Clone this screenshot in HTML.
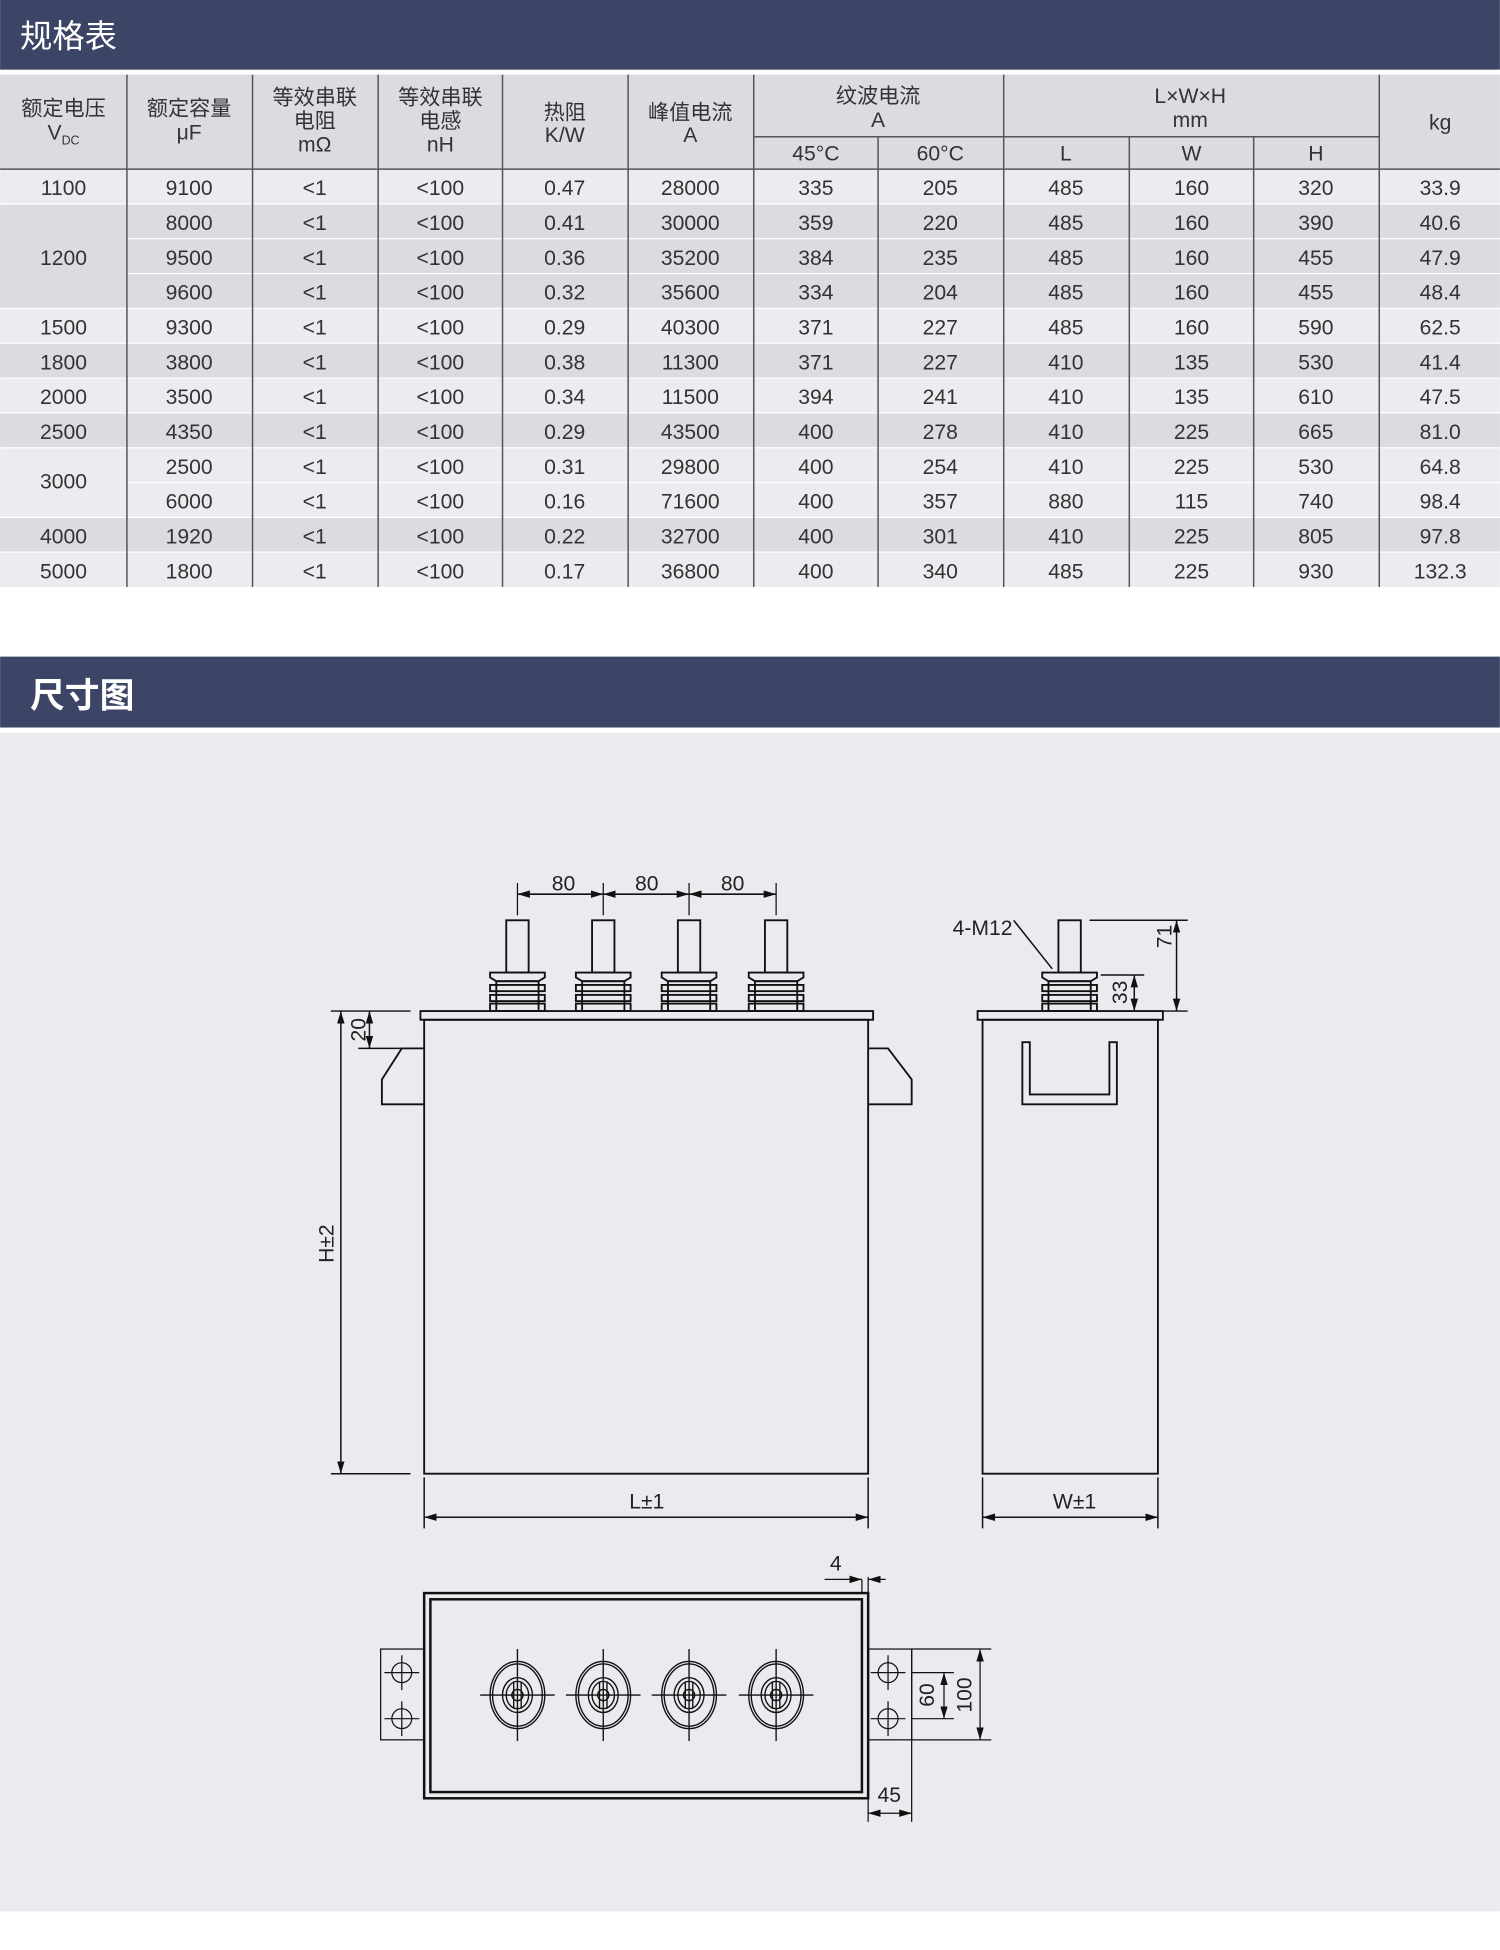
<!DOCTYPE html>
<html><head><meta charset="utf-8"><style>
html,body{margin:0;padding:0;background:#fff;}
svg{display:block;}
text{font-family:"Liberation Sans","Noto Sans CJK SC",sans-serif;fill:#333;}
.t text{font-size:17px;text-anchor:middle;}
.d text{font-size:17px;fill:#222;}
</style></head><body>
<svg width="1500" height="1950" viewBox="0 0 1206 1568" xmlns="http://www.w3.org/2000/svg">
<rect x="0" y="0" width="1206" height="1568" fill="#fff"/>
<rect x="0" y="0" width="1206" height="56" fill="#3c4565"/>
<text x="16" y="38" font-size="26" style="fill:#fff">规格表</text>
<rect x="0" y="60" width="1206" height="76" fill="#dcdbe1"/>
<g>
<rect x="0" y="136" width="1206" height="28" fill="#ececf0"/>
<rect x="0" y="164" width="1206" height="84" fill="#dcdbe1"/>
<rect x="0" y="248" width="1206" height="28" fill="#ececf0"/>
<rect x="0" y="276" width="1206" height="28" fill="#dcdbe1"/>
<rect x="0" y="304" width="1206" height="28" fill="#ececf0"/>
<rect x="0" y="332" width="1206" height="28" fill="#dcdbe1"/>
<rect x="0" y="360" width="1206" height="56" fill="#ececf0"/>
<rect x="0" y="416" width="1206" height="28" fill="#dcdbe1"/>
<rect x="0" y="444" width="1206" height="28" fill="#ececf0"/>
</g>
<g stroke="#fff" stroke-width="1">
<line x1="0" y1="164" x2="1206" y2="164"/><line x1="102" y1="192" x2="1206" y2="192"/><line x1="102" y1="220" x2="1206" y2="220"/>
<line x1="0" y1="248" x2="1206" y2="248"/><line x1="0" y1="276" x2="1206" y2="276"/><line x1="0" y1="304" x2="1206" y2="304"/>
<line x1="0" y1="332" x2="1206" y2="332"/><line x1="0" y1="360" x2="1206" y2="360"/><line x1="102" y1="388" x2="1206" y2="388"/>
<line x1="0" y1="416" x2="1206" y2="416"/><line x1="0" y1="444" x2="1206" y2="444"/>
</g>
<g stroke="#555" stroke-width="1.2">
<line x1="0" y1="136" x2="1206" y2="136"/>
<line x1="606" y1="110" x2="1109" y2="110"/>
<line x1="102" y1="60" x2="102" y2="472"/><line x1="203" y1="60" x2="203" y2="472"/><line x1="304" y1="60" x2="304" y2="472"/>
<line x1="404" y1="60" x2="404" y2="472"/><line x1="505" y1="60" x2="505" y2="472"/><line x1="606" y1="60" x2="606" y2="472"/>
<line x1="706" y1="110" x2="706" y2="472"/><line x1="807" y1="60" x2="807" y2="472"/><line x1="908" y1="110" x2="908" y2="472"/>
<line x1="1008" y1="110" x2="1008" y2="472"/><line x1="1109" y1="60" x2="1109" y2="472"/>
</g>
<g class="t">
<text x="51" y="93">额定电压</text><text x="51" y="112">V<tspan font-size="10" dy="4">DC</tspan></text>
<text x="152" y="93">额定容量</text><text x="152" y="112">μF</text>
<text x="253" y="84">等效串联</text><text x="253" y="103">电阻</text><text x="253" y="122">mΩ</text>
<text x="354" y="84">等效串联</text><text x="354" y="103">电感</text><text x="354" y="122">nH</text>
<text x="454" y="96">热阻</text><text x="454" y="114">K/W</text>
<text x="555" y="96">峰值电流</text><text x="555" y="114">A</text>
<text x="706" y="83">纹波电流</text><text x="706" y="102">A</text>
<text x="656" y="129">45°C</text><text x="756" y="129">60°C</text>
<text x="957" y="83">L×W×H</text><text x="957" y="102">mm</text>
<text x="857" y="129">L</text><text x="958" y="129">W</text><text x="1058" y="129">H</text>
<text x="1158" y="104">kg</text>
</g>
<g class="t">
<text x="51" y="157">1100</text><text x="51" y="213">1200</text><text x="51" y="269">1500</text><text x="51" y="297">1800</text><text x="51" y="325">2000</text><text x="51" y="353">2500</text><text x="51" y="393">3000</text><text x="51" y="437">4000</text><text x="51" y="465">5000</text>
<g transform="translate(0,157)"><text x="152">9100</text><text x="253">&lt;1</text><text x="354">&lt;100</text><text x="454">0.47</text><text x="555">28000</text><text x="656">335</text><text x="756">205</text><text x="857">485</text><text x="958">160</text><text x="1058">320</text><text x="1158">33.9</text></g>
<g transform="translate(0,185)"><text x="152">8000</text><text x="253">&lt;1</text><text x="354">&lt;100</text><text x="454">0.41</text><text x="555">30000</text><text x="656">359</text><text x="756">220</text><text x="857">485</text><text x="958">160</text><text x="1058">390</text><text x="1158">40.6</text></g>
<g transform="translate(0,213)"><text x="152">9500</text><text x="253">&lt;1</text><text x="354">&lt;100</text><text x="454">0.36</text><text x="555">35200</text><text x="656">384</text><text x="756">235</text><text x="857">485</text><text x="958">160</text><text x="1058">455</text><text x="1158">47.9</text></g>
<g transform="translate(0,241)"><text x="152">9600</text><text x="253">&lt;1</text><text x="354">&lt;100</text><text x="454">0.32</text><text x="555">35600</text><text x="656">334</text><text x="756">204</text><text x="857">485</text><text x="958">160</text><text x="1058">455</text><text x="1158">48.4</text></g>
<g transform="translate(0,269)"><text x="152">9300</text><text x="253">&lt;1</text><text x="354">&lt;100</text><text x="454">0.29</text><text x="555">40300</text><text x="656">371</text><text x="756">227</text><text x="857">485</text><text x="958">160</text><text x="1058">590</text><text x="1158">62.5</text></g>
<g transform="translate(0,297)"><text x="152">3800</text><text x="253">&lt;1</text><text x="354">&lt;100</text><text x="454">0.38</text><text x="555">11300</text><text x="656">371</text><text x="756">227</text><text x="857">410</text><text x="958">135</text><text x="1058">530</text><text x="1158">41.4</text></g>
<g transform="translate(0,325)"><text x="152">3500</text><text x="253">&lt;1</text><text x="354">&lt;100</text><text x="454">0.34</text><text x="555">11500</text><text x="656">394</text><text x="756">241</text><text x="857">410</text><text x="958">135</text><text x="1058">610</text><text x="1158">47.5</text></g>
<g transform="translate(0,353)"><text x="152">4350</text><text x="253">&lt;1</text><text x="354">&lt;100</text><text x="454">0.29</text><text x="555">43500</text><text x="656">400</text><text x="756">278</text><text x="857">410</text><text x="958">225</text><text x="1058">665</text><text x="1158">81.0</text></g>
<g transform="translate(0,381)"><text x="152">2500</text><text x="253">&lt;1</text><text x="354">&lt;100</text><text x="454">0.31</text><text x="555">29800</text><text x="656">400</text><text x="756">254</text><text x="857">410</text><text x="958">225</text><text x="1058">530</text><text x="1158">64.8</text></g>
<g transform="translate(0,409)"><text x="152">6000</text><text x="253">&lt;1</text><text x="354">&lt;100</text><text x="454">0.16</text><text x="555">71600</text><text x="656">400</text><text x="756">357</text><text x="857">880</text><text x="958">115</text><text x="1058">740</text><text x="1158">98.4</text></g>
<g transform="translate(0,437)"><text x="152">1920</text><text x="253">&lt;1</text><text x="354">&lt;100</text><text x="454">0.22</text><text x="555">32700</text><text x="656">400</text><text x="756">301</text><text x="857">410</text><text x="958">225</text><text x="1058">805</text><text x="1158">97.8</text></g>
<g transform="translate(0,465)"><text x="152">1800</text><text x="253">&lt;1</text><text x="354">&lt;100</text><text x="454">0.17</text><text x="555">36800</text><text x="656">400</text><text x="756">340</text><text x="857">485</text><text x="958">225</text><text x="1058">930</text><text x="1158">132.3</text></g>
</g>
<rect x="0" y="528" width="1206" height="57" fill="#3c4565"/>
<text x="24" y="569" font-size="28" font-weight="bold" style="fill:#fff">尺寸图</text>
<rect x="0" y="589" width="1206" height="948" fill="#ebeaef"/>
<defs>
<marker id="a" viewBox="0 0 10 6" refX="10" refY="3" markerWidth="10" markerHeight="6" orient="auto-start-reverse" markerUnits="userSpaceOnUse"><path d="M0,0 L10,3 L0,6 z" fill="#111"/></marker>
<g id="term" fill="none" stroke="#111" stroke-width="1.5">
<rect x="-9" y="740" width="18" height="42"/>
<path d="M-22,782 H22 V786 L17,789 H-17 L-22,786 Z"/>
<rect x="-17" y="789" width="34" height="24"/>
<rect x="-22" y="792" width="44" height="5"/>
<rect x="-22" y="800" width="44" height="5"/>
<rect x="-22" y="807" width="44" height="6"/>
</g>
<g id="top" fill="none" stroke="#111" stroke-width="1.1">
<ellipse rx="22" ry="27"/><ellipse rx="20" ry="25"/>
<ellipse rx="12" ry="14"/><ellipse rx="9" ry="11"/><circle r="4.5"/>
<line x1="-3" y1="-11" x2="-3" y2="11"/><line x1="3" y1="-11" x2="3" y2="11"/>
<line x1="-30" y1="0" x2="30" y2="0"/><line x1="0" y1="-37" x2="0" y2="37"/>
</g>
<g id="hole" fill="none" stroke="#111" stroke-width="1"><circle r="8"/><line x1="-14" y1="0" x2="14" y2="0"/><line x1="0" y1="-14" x2="0" y2="14"/></g>
</defs>
<g class="d" fill="none" stroke="#111" stroke-width="1.5">
<rect x="338" y="813" width="364" height="7" fill="#ebeaef"/>
<rect x="341" y="820" width="357" height="365"/>
<path d="M341,843 H323 L307,868 V888 H341"/>
<path d="M698,843 H714 L733,868 V888 H698"/>
<use href="#term" x="416"/><use href="#term" x="485"/><use href="#term" x="554"/><use href="#term" x="624"/>
<g stroke-width="1"><line x1="416" y1="710" x2="416" y2="736"/><line x1="485" y1="710" x2="485" y2="736"/><line x1="554" y1="710" x2="554" y2="736"/><line x1="624" y1="710" x2="624" y2="736"/></g>
<g stroke-width="1.3"><line x1="416" y1="719" x2="485" y2="719" marker-start="url(#a)" marker-end="url(#a)"/><line x1="485" y1="719" x2="554" y2="719" marker-start="url(#a)" marker-end="url(#a)"/><line x1="554" y1="719" x2="624" y2="719" marker-start="url(#a)" marker-end="url(#a)"/></g>
<g stroke-width="1.2">
<line x1="266" y1="813" x2="330" y2="813"/><line x1="266" y1="1185" x2="330" y2="1185"/><line x1="288" y1="843" x2="330" y2="843"/>
<line x1="274" y1="813" x2="274" y2="1185" marker-start="url(#a)" marker-end="url(#a)"/>
<line x1="297" y1="813" x2="297" y2="843" marker-start="url(#a)" marker-end="url(#a)"/>
<line x1="341" y1="1188" x2="341" y2="1229"/><line x1="698" y1="1188" x2="698" y2="1229"/>
<line x1="341" y1="1220" x2="698" y2="1220" marker-start="url(#a)" marker-end="url(#a)"/>
</g>
<rect x="786" y="813" width="149" height="7" fill="#ebeaef"/>
<rect x="790" y="820" width="141" height="365"/>
<path d="M822,838 V888 H898 V838 H892 V880 H828 V838 Z"/>
<use href="#term" x="860"/>
<g stroke-width="1.2">
<line x1="815" y1="740" x2="846" y2="779"/>
<line x1="876" y1="740" x2="955" y2="740"/><line x1="935" y1="813" x2="955" y2="813"/><line x1="885" y1="784" x2="920" y2="784"/>
<line x1="946" y1="740" x2="946" y2="813" marker-start="url(#a)" marker-end="url(#a)"/>
<line x1="912" y1="784" x2="912" y2="813" marker-start="url(#a)" marker-end="url(#a)"/>
<line x1="790" y1="1188" x2="790" y2="1229"/><line x1="931" y1="1188" x2="931" y2="1229"/>
<line x1="790" y1="1220" x2="931" y2="1220" marker-start="url(#a)" marker-end="url(#a)"/>
</g>
<rect x="341" y="1281" width="357" height="165" stroke-width="2"/>
<rect x="346" y="1286" width="347" height="155" stroke-width="2"/>
<rect x="306" y="1326" width="35" height="73" stroke-width="1"/>
<rect x="698" y="1326" width="35" height="73" stroke-width="1"/>
<use href="#hole" x="323" y="1345"/><use href="#hole" x="323" y="1382"/>
<use href="#hole" x="714" y="1345"/><use href="#hole" x="714" y="1382"/>
<use href="#top" x="416" y="1363"/><use href="#top" x="485" y="1363"/><use href="#top" x="554" y="1363"/><use href="#top" x="624" y="1363"/>
<g stroke-width="1">
<line x1="693" y1="1270" x2="693" y2="1281"/><line x1="698" y1="1268" x2="698" y2="1281"/>
<line x1="663" y1="1270" x2="693" y2="1270" marker-end="url(#a)"/><line x1="712" y1="1270" x2="698" y2="1270" marker-end="url(#a)"/>
<line x1="733" y1="1326" x2="733" y2="1465"/><line x1="698" y1="1446" x2="698" y2="1465"/>
<line x1="698" y1="1458" x2="733" y2="1458" marker-start="url(#a)" marker-end="url(#a)"/>
<line x1="733" y1="1326" x2="797" y2="1326"/><line x1="733" y1="1399" x2="797" y2="1399"/>
<line x1="733" y1="1345" x2="767" y2="1345"/><line x1="733" y1="1382" x2="767" y2="1382"/>
<line x1="759" y1="1345" x2="759" y2="1382" marker-start="url(#a)" marker-end="url(#a)"/>
<line x1="788" y1="1326" x2="788" y2="1399" marker-start="url(#a)" marker-end="url(#a)"/>
</g>
</g>
<g class="d" stroke="none">
<text x="453" y="716" text-anchor="middle">80</text><text x="520" y="716" text-anchor="middle">80</text><text x="589" y="716" text-anchor="middle">80</text>
<text x="520" y="1213" text-anchor="middle">L±1</text><text x="864" y="1213" text-anchor="middle">W±1</text>
<text x="790" y="752" text-anchor="middle">4-M12</text>
<text transform="translate(294,828) rotate(-90)" text-anchor="middle">20</text>
<text transform="translate(268,1000) rotate(-90)" text-anchor="middle">H±2</text>
<text transform="translate(906,798) rotate(-90)" text-anchor="middle">33</text>
<text transform="translate(942,753) rotate(-90)" text-anchor="middle">71</text>
<text x="672" y="1263" text-anchor="middle">4</text>
<text x="715" y="1449" text-anchor="middle">45</text>
<text transform="translate(751,1363) rotate(-90)" text-anchor="middle">60</text>
<text transform="translate(781,1363) rotate(-90)" text-anchor="middle">100</text>
</g>
</svg>
</body></html>
